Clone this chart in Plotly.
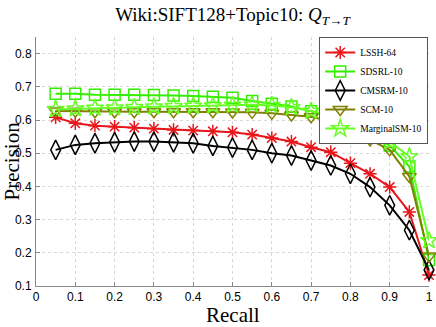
import plotly.graph_objects as go

recall = [0.05, 0.1, 0.15, 0.2, 0.25, 0.3, 0.35, 0.4, 0.45, 0.5,
          0.55, 0.6, 0.65, 0.7, 0.75, 0.8, 0.85, 0.9, 0.95, 1.0]

lssh_64 = [0.608, 0.59, 0.583, 0.58, 0.577, 0.574, 0.57, 0.568, 0.566, 0.563,
           0.556, 0.546, 0.535, 0.518, 0.503, 0.47, 0.438, 0.398, 0.323, 0.133]
sdsrl_10 = [0.679, 0.679, 0.676, 0.676, 0.676, 0.675, 0.674, 0.672, 0.67, 0.667,
            0.657, 0.649, 0.641, 0.626, 0.607, 0.578, 0.558, 0.523, 0.46, 0.178]
cmsrm_10 = [0.51, 0.525, 0.53, 0.533, 0.535, 0.535, 0.533, 0.53, 0.522, 0.517,
            0.51, 0.5, 0.493, 0.478, 0.463, 0.438, 0.398, 0.343, 0.268, 0.148]
scm_10 = [0.627, 0.626, 0.625, 0.625, 0.625, 0.625, 0.625, 0.625, 0.625, 0.624,
          0.623, 0.62, 0.615, 0.61, 0.596, 0.57, 0.54, 0.51, 0.43, 0.19]
marginalsm_10 = [0.632, 0.634, 0.636, 0.637, 0.638, 0.64, 0.641, 0.642, 0.643, 0.645,
                 0.646, 0.644, 0.638, 0.627, 0.615, 0.592, 0.57, 0.535, 0.49, 0.237]

x_ticks = [0, 0.1, 0.2, 0.3, 0.4, 0.5, 0.6, 0.7, 0.8, 0.9, 1]
x_ticktext = ["0", "0.1", "0.2", "0.3", "0.4", "0.5", "0.6", "0.7", "0.8", "0.9", "1"]
y_ticks = [0.1, 0.2, 0.3, 0.4, 0.5, 0.6, 0.7, 0.8]

SERIF = "Liberation Serif, DejaVu Serif, serif"
SANS = "Liberation Sans Narrow, Liberation Sans, Arial, sans-serif"

series = [
    ("LSSH-64", lssh_64, "#e8151b", "asterisk-open", 11),
    ("SDSRL-10", sdsrl_10, "#33ee00", "square-open", 11),
    ("CMSRM-10", cmsrm_10, "#000000", "diamond-tall-open", 14),
    ("SCM-10", scm_10, "#808000", "triangle-down-open", 12),
    ("MarginalSM-10", marginalsm_10, "#66ff22", "star-open", 13),
]

fig = go.Figure()
for name, vals, color, symbol, size in series:
    fig.add_trace(go.Scatter(
        x=recall, y=vals, mode="lines+markers", name=name, cliponaxis=False,
        line=dict(color=color, width=2),
        marker=dict(symbol=symbol, size=size, color=color,
                    line=dict(color=color, width=1.5)),
    ))

axis_common = dict(
    showgrid=True, gridcolor="#d8d8d8", griddash="dot",
    showline=True, linecolor="#888888", linewidth=1,
    ticks="inside", ticklen=4, tickcolor="#888888",
    tickfont=dict(family=SANS, size=12, color="black"),
    zeroline=False, automargin=False,
)

fig.update_layout(
    width=436, height=327,
    margin=dict(l=36, r=7, t=37, b=41),
    paper_bgcolor="white", plot_bgcolor="white",
    title=dict(text="Wiki:SIFT128+Topic10: <i>Q</i><sub><i>T→T</i></sub>",
               xref="paper", x=0.5, xanchor="center", y=0.955, yanchor="middle",
               font=dict(family=SERIF, size=19, color="black")),
    xaxis=dict(range=[0, 1], tickvals=x_ticks, ticktext=x_ticktext, **axis_common),
    yaxis=dict(range=[0.1, 0.85], tickvals=y_ticks, ticklabelstandoff=1, **axis_common),
    legend=dict(x=0.998, y=1.0, xanchor="right", yanchor="top",
                bgcolor="white", bordercolor="#555555", borderwidth=1,
                font=dict(family=SERIF, size=9.5, color="black"),
                itemwidth=30, tracegroupgap=0, itemsizing="trace"),
    annotations=[
        dict(text="Precision", xref="paper", yref="paper", x=0, y=0.5,
             xshift=-25, textangle=-90, showarrow=False,
             xanchor="center", yanchor="middle",
             font=dict(family=SERIF, size=21, color="black")),
        dict(text="Recall", xref="paper", yref="paper", x=0.5, y=0,
             yshift=-29, showarrow=False, xanchor="center", yanchor="middle",
             font=dict(family=SERIF, size=21, color="black")),
    ],
)

fig.write_html("out.html", config={"displayModeBar": False},
               post_script="document.body.style.margin='0';")
